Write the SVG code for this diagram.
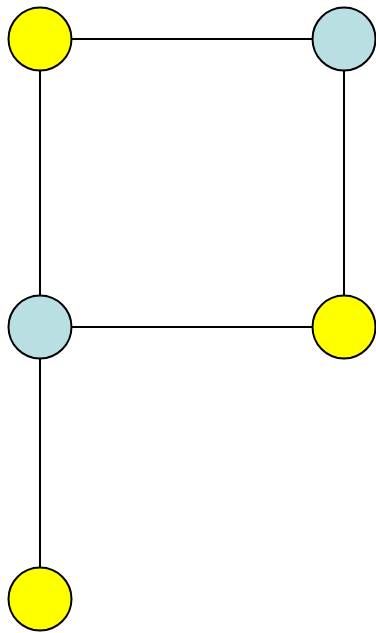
<svg xmlns="http://www.w3.org/2000/svg" width="376" height="633" viewBox="0 0 376 633">
<style>
.e{stroke:#000;stroke-width:2;fill:none}
.n{stroke:#000;stroke-width:2}
.y{fill:#ffff00}
.b{fill:#b9dfe3}
</style>
<rect width="376" height="633" fill="#fff"/>
<g id="edges">
<line class="e" x1="40" y1="39" x2="344" y2="39"/>
<line class="e" x1="344" y1="39" x2="344" y2="327"/>
<line class="e" x1="40" y1="39" x2="40" y2="327"/>
<line class="e" x1="40" y1="327" x2="344" y2="327"/>
<line class="e" x1="40" y1="327" x2="40" y2="599"/>
</g>
<g id="n1"><circle class="n y" cx="40" cy="39" r="31.5"/></g>
<g id="n2"><circle class="n b" cx="344" cy="39" r="31.5"/></g>
<g id="n3"><circle class="n b" cx="40" cy="327" r="31.5"/></g>
<g id="n4"><circle class="n y" cx="344" cy="327" r="31.5"/></g>
<g id="n5"><circle class="n y" cx="40" cy="599" r="31.5"/></g>
</svg>
